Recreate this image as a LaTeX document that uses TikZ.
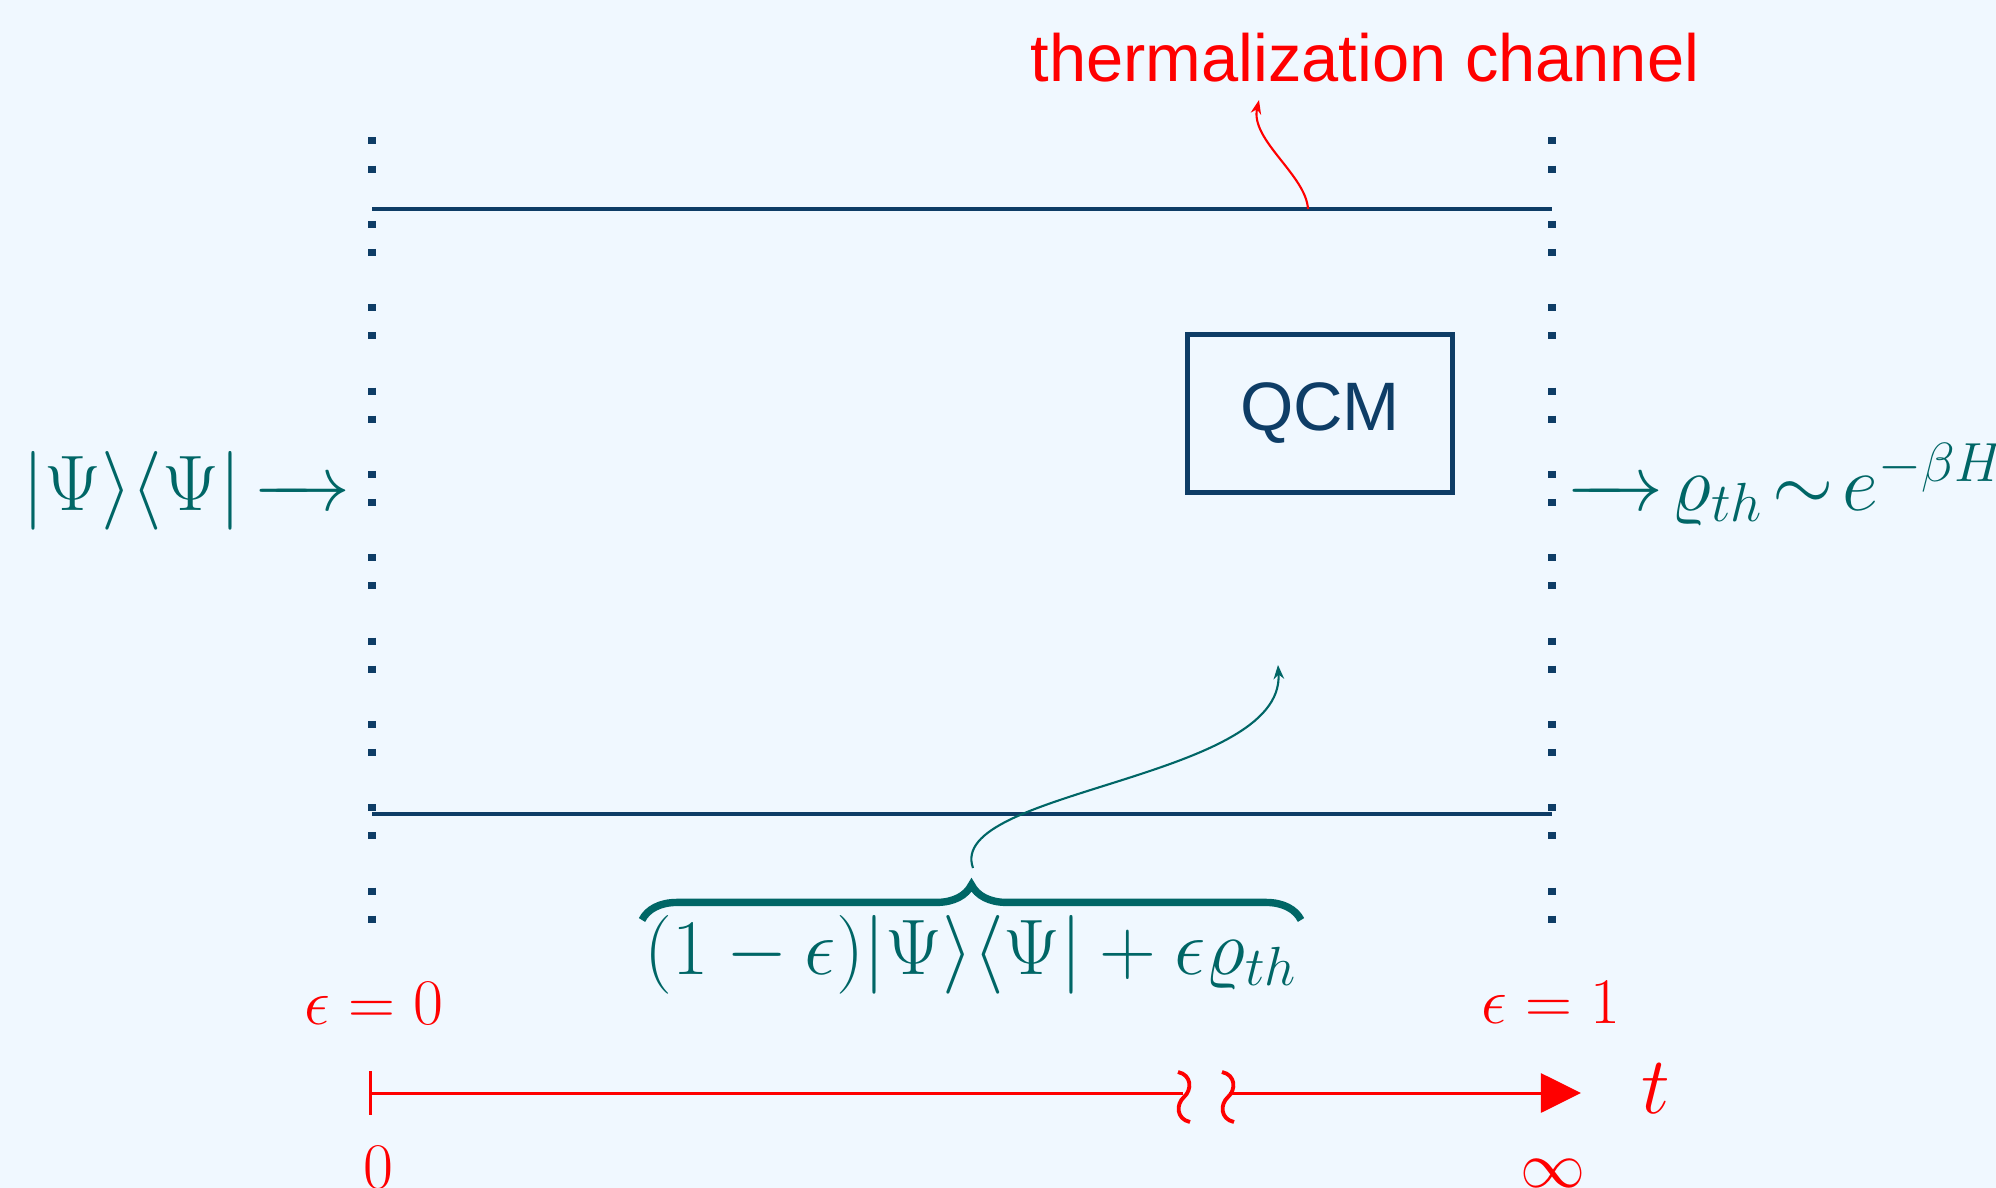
\RequirePackage{fix-cm}
\documentclass[tikz,border=0pt]{standalone}
\usepackage{fontspec}
\newfontfamily\helv{Liberation Sans}
\usetikzlibrary{arrows.meta,decorations.pathreplacing}
\definecolor{bgblue}{RGB}{240,248,255}
\definecolor{navy}{RGB}{14,61,102}
\definecolor{tealc}{RGB}{0,102,102}
\newcommand{\lto}{\mathrel{\relbar\mkern-10mu\rightarrow}}

\begin{document}
\begin{tikzpicture}[
    x=0.01cm, y=-0.01cm,
    mth/.style={text=tealc, inner sep=0pt, font=\fontsize{22.4}{26}\selectfont},
    lbl/.style={text=red, inner sep=0pt, font=\fontsize{18.5}{22}\selectfont},
    wall/.style={navy, line width=2pt, dash pattern=on 1.99pt off 5.98pt on 1.99pt off 13.74pt},
    rail/.style={navy, line width=0.9pt},
    axis/.style={red, line width=0.85pt},
    curly/.style={line width=0.6pt, -{Stealth[length=4pt]}},
    overb/.style={tealc, line width=2.1pt, decorate, decoration={brace, amplitude=10pt}}
  ]
  \fill[bgblue] (0,0) rectangle (1996,1188);
  \useasboundingbox (0,0) rectangle (1996,1188);

  % the channel: two walls, two rails and the box
  \coordinate (wl0) at (372,137.5);
  \coordinate (wl1) at (372,923);
  \coordinate (wr0) at (1552,137.5);
  \coordinate (wr1) at (1552,923);
  \draw[wall] (wl0) -- (wl1);
  \draw[wall] (wr0) -- (wr1);
  \draw[rail] (372,209) coordinate (ta) -- (1552,209) coordinate (tb);
  \draw[rail] (372,814) coordinate (ba) -- (1552,814) coordinate (bb);

  \node[draw=navy, line width=1.45pt, text=navy, minimum width=2.64cm, minimum height=1.58cm,
        font=\helv\fontsize{19.5}{23}\selectfont] (qcm) at (1320,413.5) {QCM};

  \node[text=red, inner sep=0pt, anchor=base, font=\helv\fontsize{19}{23}\selectfont]
    (title) at (1365,82) {thermalization channel};
  \coordinate (tfoot) at (1308,209);
  \coordinate (thead) at (1259,100);
  \draw[curly, red] (tfoot) .. controls (1306,175) and (1250,140) .. (thead);

  % states in and out
  \node[mth, anchor=base east] (psi) at (351,510) {$|\Psi\rangle\langle\Psi|\mkern-2mu\lto$};
  \node[mth, anchor=base west] (rho) at (1566,510) {$\lto\!\varrho_{th}\!\sim\! e^{-\beta H}$};

  \node[mth, anchor=base] (mix) at (971,974)
    {$(1-\epsilon)|\Psi\rangle\langle\Psi|+\epsilon\varrho_{th}$};
  \draw[overb] (642,920) coordinate (bl) -- (1301,920) coordinate (br);
  \coordinate (bracetip) at (973,868);
  \coordinate (qcmin) at (1278,665);
  \draw[curly, tealc] (bracetip) .. controls (945,790) and (1285,780) .. (qcmin);

  % time axis
  \node[lbl, anchor=base] (e0) at (374,1024) {$\epsilon=0$};
  \node[lbl, anchor=base] (e1) at (1551,1023) {$\epsilon=1$};
  \node[lbl, anchor=base] (t0) at (378,1188) {$0$};
  \node[lbl, anchor=base] (tinf) at (1553,1187) {$\infty$};
  \node[text=red, inner sep=0pt, anchor=base, font=\fontsize{23}{27}\selectfont]
    (tvar) at (1656,1113) {$t$};

  \draw[axis, {Bar[width=12.5pt]}-] (369,1093) coordinate (ax0) -- (1183,1093) coordinate (ax1);
  \draw[axis, -{Triangle[length=11.4pt, width=11.1pt]}] (1229,1093) coordinate (ax2) -- (1581,1093) coordinate (ax3);
  \foreach \dx in {0,44}
    \draw[red, line width=1.1pt, xshift=\dx*0.01cm]
      (1178,1072) .. controls (1192,1075) and (1192,1090) .. (1184,1097)
      .. controls (1176,1104) and (1176,1119) .. (1190,1122);
\end{tikzpicture}
\end{document}
